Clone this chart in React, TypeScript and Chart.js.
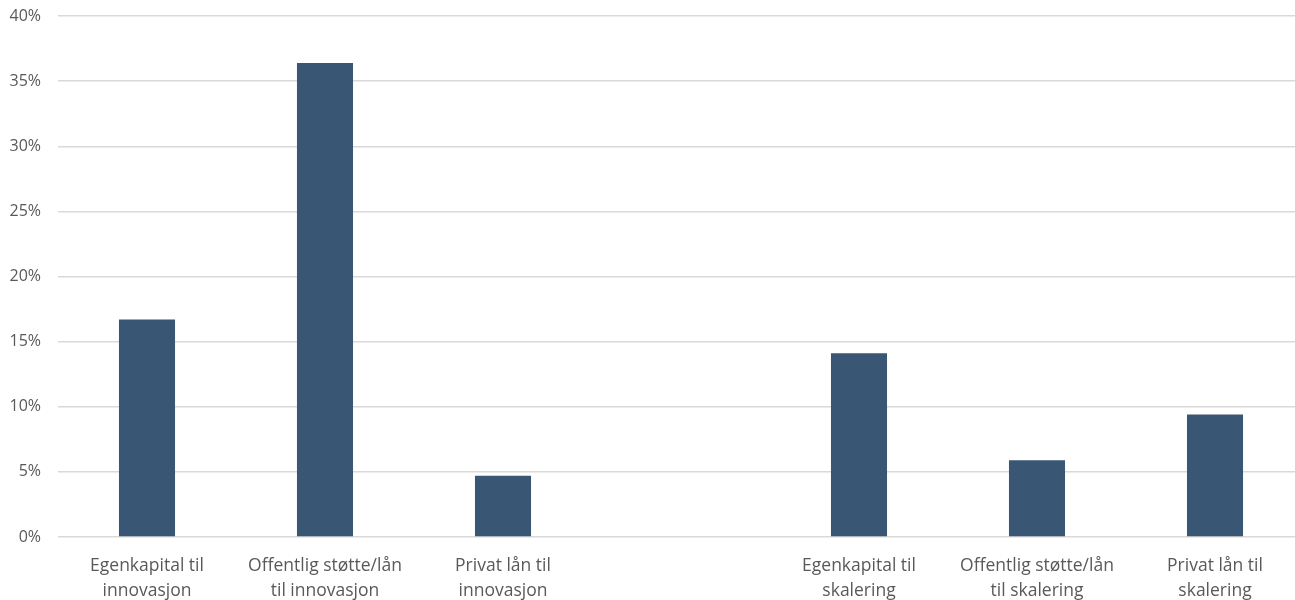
import React, { useEffect, useRef } from "react";
import { Chart, registerables } from "chart.js";

Chart.register(...registerables);

const categories: string[][] = [
  ["Egenkapital til", "innovasjon"],
  ["Offentlig støtte/lån", "til innovasjon"],
  ["Privat lån til", "innovasjon"],
  [""],
  ["Egenkapital til", "skalering"],
  ["Offentlig støtte/lån", "til skalering"],
  ["Privat lån til", "skalering"],
];
const shares: (number | null)[] = [16.7, 36.4, 4.7, null, 14.1, 5.9, 9.4];
const yMax = 40;
const yStep = 5;

const FONT = "'Open Sans', sans-serif";
const W = 1310;
const H = 612;

export default function App() {
  const ref = useRef<HTMLCanvasElement | null>(null);
  useEffect(() => {
    if (!ref.current) return;
    const chart = new Chart(ref.current, {
      type: "bar",
      data: {
        labels: categories,
        datasets: [
          {
            data: shares,
            backgroundColor: "#3A5675",
            borderWidth: 0,
            barPercentage: 0.315,
            categoryPercentage: 1,
          },
        ],
      },
      options: {
        responsive: false,
        animation: false,
        devicePixelRatio: 1,
        layout: { padding: { top: 16, right: W - 1304, left: 0, bottom: 0 } },
        plugins: { legend: { display: false }, tooltip: { enabled: false } },
        scales: {
          x: {
            grid: { display: false, drawTicks: false },
            border: { display: false },
            ticks: {
              color: "#595959",
              font: { family: FONT, size: 17.5, lineHeight: 1.4 },
              padding: 17,
              maxRotation: 0,
              autoSkip: false,
            },
            afterFit: (s: any) => {
              s.height = H - 537;
              s.paddingLeft = 0;
              s.paddingRight = 0;
            },
          },
          y: {
            min: 0,
            max: yMax,
            grid: { color: "#D9D9D9", lineWidth: 1.5, drawTicks: false },
            border: { display: false },
            ticks: {
              stepSize: yStep,
              color: "#595959",
              font: { family: FONT, size: 16 },
              padding: 17,
              callback: (v: any) => v + "%",
            },
            afterFit: (s: any) => {
              s.width = 58;
              s.paddingTop = 0;
              s.paddingBottom = 0;
            },
          },
        },
      },
    });
    return () => chart.destroy();
  }, []);
  return (
    <div style={{ position: "fixed", left: 0, top: 0, width: 1295, height: 600, overflow: "hidden", background: "#fff" }}>
      <canvas ref={ref} width={W} height={H} style={{ display: "block", width: W, height: H }} />
    </div>
  );
}
